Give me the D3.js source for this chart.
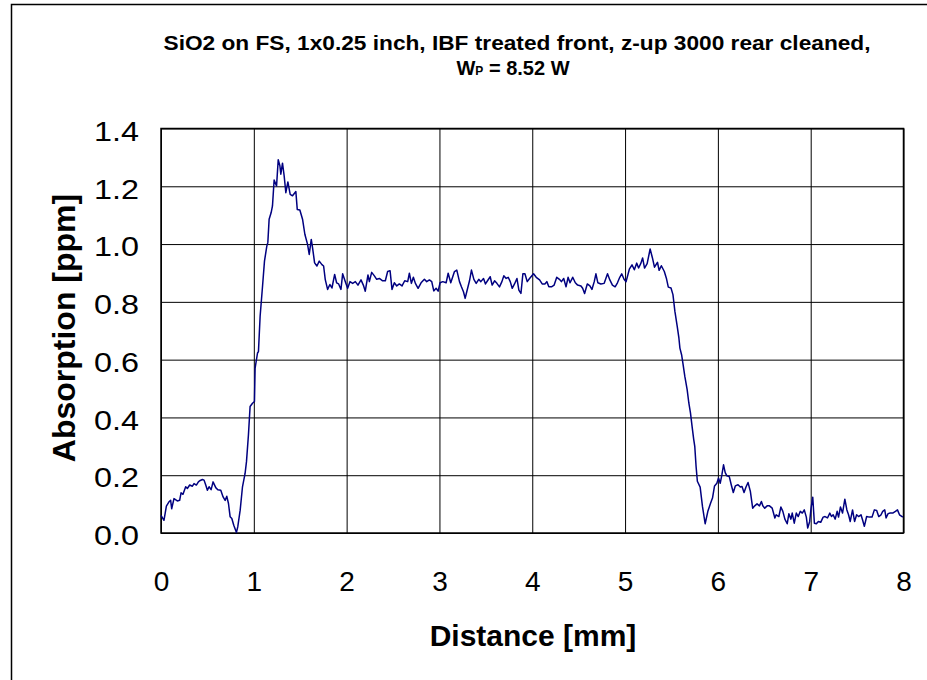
<!DOCTYPE html>
<html>
<head>
<meta charset="utf-8">
<script src="https://cdn.jsdelivr.net/npm/d3@7"></script>
<style>
body { margin: 0; background: #fff; overflow: hidden; }
svg { display: block; }
text { font-family: Arial, "Liberation Sans", sans-serif; }
</style>
</head>
<body>
<div id="chart"></div>
<script>
// title lines
const titleLine1 = "SiO2 on FS, 1x0.25 inch, IBF treated front, z-up 3000 rear cleaned,";
const titleLine2 = ["W", "P", " = 8.52 W"];

const xTicks = [0, 1, 2, 3, 4, 5, 6, 7, 8];
const yTicks = [0.0, 0.2, 0.4, 0.6, 0.8, 1.0, 1.2, 1.4];

// distance [mm]
const distance = [
0, 0.032, 0.058, 0.086, 0.104, 0.115, 0.140, 0.176, 0.201, 0.216, 0.237, 0.266, 0.284, 0.309, 0.338, 0.356, 0.381, 0.403, 0.417, 0.446,
0.464, 0.482, 0.500, 0.518, 0.540, 0.561, 0.590, 0.612, 0.644, 0.669, 0.691, 0.709, 0.727, 0.745, 0.763, 0.784, 0.813, 0.827, 0.853, 0.878,
0.906, 0.921, 0.942, 0.960, 0.986, 1.007, 1.014, 1.040, 1.050, 1.068, 1.094, 1.115, 1.140, 1.151, 1.165, 1.187, 1.201, 1.219, 1.245, 1.263,
1.281, 1.291, 1.309, 1.327, 1.345, 1.367, 1.392, 1.417, 1.453, 1.468, 1.496, 1.525, 1.550, 1.579, 1.597, 1.619, 1.633, 1.655, 1.680, 1.705,
1.734, 1.752, 1.770, 1.795, 1.820, 1.842, 1.871, 1.892, 1.914, 1.939,
1.957, 1.986, 2.011, 2.036, 2.065, 2.094, 2.122, 2.155, 2.180, 2.201, 2.230, 2.245, 2.270, 2.299, 2.324, 2.353, 2.388, 2.417, 2.442, 2.468,
2.489, 2.514, 2.540, 2.568, 2.597, 2.626, 2.658, 2.676, 2.698, 2.719, 2.741, 2.770, 2.802, 2.838, 2.863, 2.892, 2.917, 2.939, 2.964, 2.986,
3.007, 3.036, 3.072, 3.094, 3.122, 3.162, 3.187, 3.216, 3.237, 3.259, 3.277, 3.299, 3.324, 3.345, 3.371, 3.396, 3.424, 3.446, 3.475, 3.496,
3.518, 3.547, 3.568, 3.594, 3.619, 3.647, 3.673, 3.694, 3.719, 3.741, 3.763, 3.784, 3.809, 3.835, 3.856, 3.878, 3.899, 3.921, 3.946, 3.971,
4.014, 4.043, 4.079, 4.107, 4.136, 4.157, 4.179, 4.207, 4.236, 4.264, 4.293, 4.314, 4.339, 4.364, 4.386, 4.407, 4.436, 4.464, 4.489, 4.525,
4.543, 4.564, 4.593, 4.621, 4.643, 4.668, 4.686, 4.707, 4.739, 4.775, 4.811, 4.836, 4.864, 4.893, 4.918, 4.943, 4.964, 4.989, 5.011,
5.046, 5.075, 5.100, 5.125, 5.146, 5.171, 5.189, 5.210, 5.238, 5.270, 5.295, 5.317, 5.349, 5.367, 5.391, 5.423, 5.445, 5.466, 5.495, 5.516,
5.537, 5.562, 5.580, 5.591, 5.609, 5.623, 5.644, 5.669, 5.687, 5.705, 5.722, 5.740, 5.751, 5.765, 5.779,
5.809, 5.834, 5.863, 5.892, 5.921, 5.942, 5.964, 5.989, 6.007, 6.025, 6.043, 6.061, 6.079, 6.097, 6.123, 6.144, 6.166, 6.188, 6.217, 6.242,
6.260, 6.282, 6.303, 6.325, 6.350, 6.375, 6.397, 6.422, 6.448, 6.469, 6.484, 6.505, 6.531, 6.556, 6.585, 6.614, 6.628, 6.657, 6.679, 6.700,
6.722, 6.747, 6.765, 6.787, 6.801, 6.823, 6.845, 6.866, 6.888, 6.910, 6.931, 6.953, 6.968, 6.989, 7.004, 7.022, 7.040, 7.061, 7.083, 7.108,
7.134, 7.155, 7.181, 7.206, 7.224, 7.242, 7.264, 7.285, 7.300, 7.321, 7.343, 7.368, 7.390, 7.408, 7.426, 7.451, 7.473, 7.495, 7.516, 7.542,
7.560, 7.578, 7.603, 7.632, 7.661, 7.686, 7.711, 7.733, 7.758, 7.776, 7.798, 7.812, 7.834, 7.856, 7.884, 7.913, 7.935, 7.957, 7.993
];

// absorption [ppm]
const absorption = [
0.061, 0.044, 0.093, 0.108, 0.113, 0.084, 0.119, 0.111, 0.113, 0.139, 0.134, 0.160, 0.154, 0.166, 0.162, 0.171, 0.166, 0.177, 0.181, 0.185,
0.183, 0.166, 0.148, 0.160, 0.150, 0.177, 0.157, 0.150, 0.148, 0.125, 0.113, 0.127, 0.102, 0.056, 0.050, 0.027, 0.002, 0.021, 0.079, 0.160,
0.206, 0.247, 0.339, 0.438, 0.449, 0.455, 0.571, 0.623, 0.628, 0.750, 0.854, 0.941, 0.993, 1.005, 1.086, 1.109, 1.132, 1.222, 1.201, 1.292,
1.271, 1.242, 1.280, 1.236, 1.178, 1.215, 1.172, 1.167, 1.182, 1.120, 1.118, 1.086, 1.034, 0.999, 0.964, 1.016, 0.987, 0.935, 0.924, 0.941,
0.929, 0.924, 0.877, 0.843, 0.860, 0.848, 0.895, 0.866, 0.862, 0.843,
0.897, 0.870, 0.847, 0.870, 0.864, 0.870, 0.858, 0.876, 0.858, 0.837, 0.893, 0.870, 0.902, 0.890, 0.878, 0.881, 0.873, 0.873, 0.905, 0.908,
0.843, 0.866, 0.855, 0.862, 0.855, 0.873, 0.870, 0.899, 0.864, 0.885, 0.864, 0.847, 0.866, 0.878, 0.870, 0.876, 0.870, 0.838, 0.847, 0.837,
0.866, 0.870, 0.866, 0.899, 0.866, 0.905, 0.910, 0.870, 0.852, 0.835, 0.812, 0.841, 0.873, 0.910, 0.878, 0.864, 0.878, 0.870, 0.881, 0.862,
0.873, 0.887, 0.858, 0.873, 0.864, 0.852, 0.870, 0.890, 0.881, 0.885, 0.870, 0.847, 0.862, 0.881, 0.841, 0.829, 0.897, 0.897, 0.870, 0.881,
0.897, 0.885, 0.876, 0.862, 0.862, 0.870, 0.852, 0.852, 0.858, 0.885, 0.878, 0.870, 0.881, 0.852, 0.885, 0.866, 0.885, 0.866, 0.858, 0.855,
0.847, 0.829, 0.862, 0.855, 0.843, 0.870, 0.897, 0.866, 0.862, 0.864, 0.897, 0.876, 0.858, 0.852, 0.866, 0.885, 0.897, 0.878, 0.870,
0.913, 0.928, 0.911, 0.934, 0.917, 0.934, 0.952, 0.917, 0.932, 0.983, 0.952, 0.920, 0.937, 0.909, 0.925, 0.905, 0.882, 0.851, 0.848, 0.825,
0.767, 0.715, 0.675, 0.640, 0.617, 0.588, 0.542, 0.496, 0.450, 0.415, 0.369, 0.323, 0.300, 0.231, 0.179,
0.159, 0.092, 0.032, 0.075, 0.103, 0.121, 0.163, 0.172, 0.190, 0.172, 0.201, 0.236, 0.209, 0.198, 0.195, 0.167, 0.140, 0.163, 0.167, 0.159,
0.161, 0.140, 0.159, 0.175, 0.144, 0.086, 0.094, 0.101, 0.094, 0.109, 0.094, 0.086, 0.094, 0.094, 0.086, 0.052, 0.063, 0.057, 0.090, 0.075,
0.048, 0.032, 0.067, 0.048, 0.069, 0.034, 0.069, 0.057, 0.075, 0.069, 0.080, 0.055, 0.017, 0.040, 0.086, 0.124, 0.034, 0.032, 0.040, 0.037,
0.055, 0.057, 0.052, 0.069, 0.057, 0.063, 0.048, 0.075, 0.055, 0.090, 0.069, 0.117, 0.080, 0.063, 0.040, 0.080, 0.040, 0.063, 0.057, 0.063,
0.044, 0.023, 0.057, 0.055, 0.055, 0.080, 0.078, 0.057, 0.063, 0.075, 0.080, 0.052, 0.067, 0.069, 0.069, 0.075, 0.080, 0.063, 0.055
];

const data = distance.map((d, i) => ({distance: d, absorption: absorption[i]}));

const margin = {top: 128.5, right: 23.5, bottom: 147, left: 161},
width = 927 - margin.left - margin.right,
height = 680 - margin.top - margin.bottom;

const svg = d3.select("#chart")
.append("svg")
.attr("width", 927)
.attr("height", 680);

// outer chart area border: only the left and top edges fall inside the picture
svg.append("path")
.attr("d", "M11.5,680V4.5H927")
.attr("fill", "none")
.attr("stroke", "#000")
.attr("stroke-width", 1.5);

svg.append("text")
.attr("x", 517)
.attr("y", 50)
.attr("text-anchor", "middle")
.attr("textLength", 707)
.attr("lengthAdjust", "spacingAndGlyphs")
.style("font-weight", "bold")
.style("font-size", "20px")
.text(titleLine1);

const t2 = svg.append("text")
.attr("x", 513)
.attr("y", 75)
.attr("text-anchor", "middle")
.style("font-weight", "bold")
.style("font-size", "20px");
t2.append("tspan").text(titleLine2[0]);
t2.append("tspan").style("font-size", "12px").text(titleLine2[1]);
t2.append("tspan").text(titleLine2[2]);

const plot = svg.append("g")
.attr("transform", `translate(${margin.left},${margin.top})`);

const x = d3.scaleLinear()
.domain([0, 8])
.range([0, width]);

const y = d3.scaleLinear()
.domain([0, 1.4])
.range([height, 0]);

// gridlines
plot.append("g")
.attr("transform", `translate(0, ${height})`)
.call(d3.axisBottom(x).tickValues(xTicks).tickSize(-height).tickFormat(""))
.call(g => g.select(".domain").remove())
.selectAll("line")
.attr("stroke", "#000");

plot.append("g")
.call(d3.axisLeft(y).tickValues(yTicks).tickSize(-width).tickFormat(""))
.call(g => g.select(".domain").remove())
.selectAll("line")
.attr("stroke", "#000");

// tick labels
const xAxis = plot.append("g")
.attr("transform", `translate(0, ${height})`)
.call(d3.axisBottom(x).tickValues(xTicks).tickSize(0).tickPadding(38).tickFormat(d3.format("d")));
xAxis.select(".domain").remove();
xAxis.selectAll("text")
.style("font-size", "28px")
.style("font-family", "Arial, 'Liberation Sans', sans-serif")
.attr("fill", "#000");

const yAxis = plot.append("g")
.call(d3.axisLeft(y).tickValues(yTicks).tickSize(0).tickPadding(22).tickFormat(d3.format(".1f")));
yAxis.select(".domain").remove();
yAxis.selectAll("text")
.attr("dy", "0.42em")
.attr("textLength", 45)
.attr("lengthAdjust", "spacingAndGlyphs")
.style("font-size", "28px")
.style("font-family", "Arial, 'Liberation Sans', sans-serif")
.attr("fill", "#000");

// plot frame
plot.append("rect")
.attr("width", width)
.attr("height", height)
.attr("fill", "none")
.attr("stroke", "#000")
.attr("stroke-width", 1.5);

const line = d3.line()
.x(d => x(d.distance))
.y(d => y(d.absorption));

plot.append("path")
.datum(data)
.attr("fill", "none")
.attr("stroke", "#000080")
.attr("stroke-width", 1.5)
.attr("stroke-linejoin", "round")
.attr("d", line);

// axis titles
svg.append("text")
.attr("x", 533)
.attr("y", 646)
.attr("text-anchor", "middle")
.style("font-weight", "bold")
.style("font-size", "30px")
.text("Distance [mm]");

svg.append("text")
.attr("transform", "translate(75, 328) rotate(-90)")
.attr("text-anchor", "middle")
.style("font-weight", "bold")
.style("font-size", "32px")
.text("Absorption [ppm]");
</script>
</body>
</html>
